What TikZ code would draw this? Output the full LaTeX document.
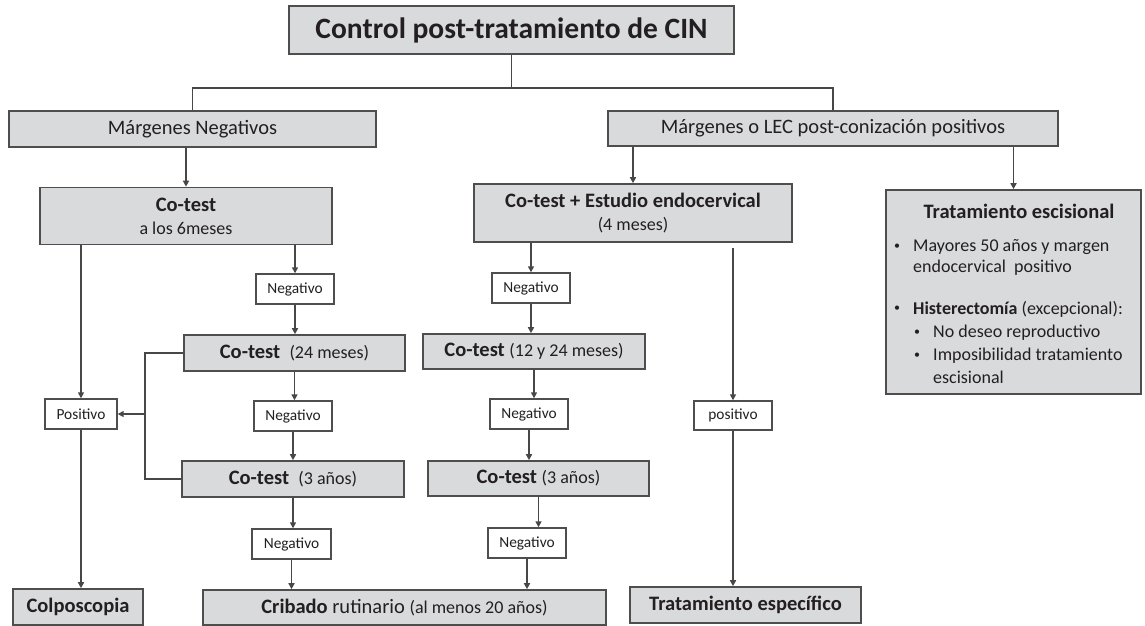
\documentclass[tikz,border=0pt]{standalone}
\usepackage{fontspec}
\setmainfont{Carlito}
\usetikzlibrary{arrows.meta}
\definecolor{BoxFill}{HTML}{D9DADC}
\definecolor{BoxLine}{HTML}{4E4E4E}
\definecolor{FlowLine}{HTML}{474747}
\definecolor{TextColor}{HTML}{231F20}
\newcommand{\fsTitle}{\fontsize{29.5}{33}\selectfont}
\newcommand{\fsMain}{\fontsize{20.5}{24}\selectfont}
\newcommand{\fsSub}{\fontsize{18}{22}\selectfont}
\newcommand{\fsSmall}{\fontsize{15.4}{18}\selectfont}

\begin{document}
\begin{tikzpicture}[x=1pt, y=-1pt,
    graybox/.style={draw=BoxLine, fill=BoxFill, line width=1.6pt, inner sep=0pt, text=TextColor, align=center, font=\fsMain},
    whitebox/.style={draw=BoxLine, fill=white, line width=1.4pt, inner sep=0pt, text=TextColor, font=\fsSmall},
    itemtext/.style={anchor=west, inner sep=0pt, text=TextColor, font=\fsSub},
    itemdot/.style={anchor=west, inner sep=0pt, text=TextColor, font=\fontsize{12}{14}\selectfont},
    flow/.style={draw=FlowLine, line width=1.5pt},
    flowarrow/.style={flow, -{Triangle[width=6pt,length=6pt]}}
]

\useasboundingbox (0,0) rectangle (1145,626);

\node[graybox, minimum width=445pt, minimum height=48pt, font=\fsTitle\bfseries] (title) at (511.5,30) {Control post-tratamiento de CIN};

\node[graybox, minimum width=367pt, minimum height=36pt] (mneg) at (192.5,129) {Márgenes Negativos};
\node[graybox, minimum width=450pt, minimum height=35pt] (mpos) at (833,128.5) {Márgenes o LEC post-conización positivos};

% rama de margenes negativos
\node[graybox, minimum width=292pt, minimum height=57pt, font=\fsSub] (cot6) at (186,216) {{\fsMain\bfseries Co-test}\\[1pt]a los 6meses};
\node[whitebox, minimum width=78pt, minimum height=30pt] (negA) at (295,289) {Negativo};
\node[graybox, minimum width=221pt, minimum height=36pt] (cot24) at (294.5,353) {{\bfseries Co-test}\ \ {\fsSub (24 meses)}};
\node[whitebox, minimum width=78pt, minimum height=30pt] (negB) at (293,416) {Negativo};
\node[graybox, minimum width=222pt, minimum height=36pt] (cot3a) at (293,479) {{\bfseries Co-test}\ \ {\fsSub (3 años)}};
\node[whitebox, minimum width=79pt, minimum height=30pt] (negC) at (291.5,544) {Negativo};
\node[whitebox, minimum width=72pt, minimum height=30pt] (posA) at (81,414) {Positivo};
\node[graybox, minimum width=130pt, minimum height=36pt, font=\fsMain\bfseries] (colpo) at (78,607) {Colposcopia};
\node[graybox, minimum width=403pt, minimum height=35pt] (cribado) at (404.5,607.5) {{\bfseries Cribado} rutinario {\fsSub (al menos 20 años)}};

% rama de margenes positivos
\node[graybox, minimum width=318pt, minimum height=58pt, font=\fsSub] (cotend) at (633,213) {{\fsMain\bfseries Co-test + Estudio endocervical}\\[1pt](4 meses)};
\node[whitebox, minimum width=78pt, minimum height=30pt] (negD) at (531,288) {Negativo};
\node[graybox, minimum width=222pt, minimum height=35pt] (cot1224) at (534,351.5) {{\bfseries Co-test} {\fsSub (12 y 24 meses)}};
\node[whitebox, minimum width=78pt, minimum height=30pt] (negE) at (529,414) {Negativo};
\node[graybox, minimum width=221pt, minimum height=35pt] (cot3b) at (538.5,478.5) {{\bfseries Co-test} {\fsSub (3 años)}};
\node[whitebox, minimum width=78pt, minimum height=30pt] (negF) at (527,543) {Negativo};
\node[whitebox, minimum width=78pt, minimum height=29pt] (posB) at (733,415.5) {positivo};
\node[graybox, minimum width=231pt, minimum height=36pt, font=\fsMain\bfseries] (tesp) at (745.5,605) {Tratamiento específico};

% tratamiento escisional
\node[graybox, minimum width=255pt, minimum height=204pt] (tesc) at (1013.5,292) {};
\node[inner sep=0pt, text=TextColor, font=\fsMain\bfseries] (tesctitle) at (1019,211) {Tratamiento escisional};
\node[itemdot] (dotA) at (894,247) {\textbullet};
\node[itemtext] (itemA) at (913,247) {Mayores 50 años y margen};
\node[itemtext] (itemAb) at (913,268) {endocervical\ \ positivo};
\node[itemdot] (dotB) at (894,309) {\textbullet};
\node[itemtext] (itemB) at (913,309) {\textbf{Histerectomía} (excepcional):};
\node[itemdot] (dotC) at (914,333) {\textbullet};
\node[itemtext] (itemC) at (933,333) {No deseo reproductivo};
\node[itemdot] (dotD) at (914,356) {\textbullet};
\node[itemtext] (itemD) at (933,356) {Imposibilidad tratamiento};
\node[itemtext] (itemDb) at (933,377) {escisional};

% conectores
\draw[flow] (title.south) -- ++(0,33) -| (mneg.north);
\draw[flow] (title.south) -- ++(0,33) -| (mpos.north);
\draw[flowarrow] (cot6.north |- mneg.south) -- (cot6.north);
\draw[flowarrow] (cotend.north |- mpos.south) -- (cotend.north);
\draw[flowarrow] (tesc.north |- mpos.south) -- (tesc.north);

\draw[flowarrow] (negA.north |- cot6.south) -- (negA.north);
\draw[flowarrow] (negA.south) -- (negA.south |- cot24.north);
\draw[flowarrow] (cot24.south) -- (cot24.south |- negB.north);
\draw[flowarrow] (negB.south) -- (negB.south |- cot3a.north);
\draw[flowarrow] (cot3a.south) -- (cot3a.south |- negC.north);
\draw[flowarrow] (negC.south) -- (negC.south |- cribado.north);

\draw[flowarrow] (posA.north |- cot6.south) -- (posA.north);
\draw[flowarrow] (posA.south) -- (posA.south |- colpo.north);
\draw[flow] (cot24.west) -- ++(-38,0) |- (cot3a.west);
\draw[flowarrow] ([xshift=-38pt]cot24.west |- posA.east) -- (posA.east);

\draw[flowarrow] (negD.north |- cotend.south) -- (negD.north);
\draw[flowarrow] (negD.south) -- (negD.south |- cot1224.north);
\draw[flowarrow] (cot1224.south) -- (cot1224.south |- negE.north);
\draw[flowarrow] (negE.south) -- (negE.south |- cot3b.north);
\draw[flowarrow] (cot3b.south) -- (cot3b.south |- negF.north);
\draw[flowarrow] (negF.south) -- (negF.south |- cribado.north);

\draw[flowarrow] ([yshift=-5pt]posB.north |- cotend.south) -- (posB.north);
\draw[flowarrow] (posB.south) -- (posB.south |- tesp.north);

\end{tikzpicture}
\end{document}
